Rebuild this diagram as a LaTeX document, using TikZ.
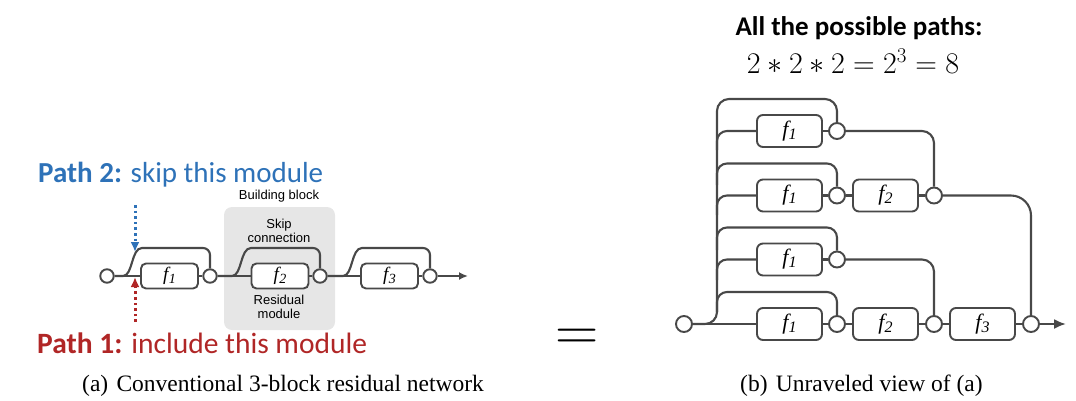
\documentclass[tikz,border=0pt]{standalone}
\usepackage{fix-cm}
\usepackage{amsmath}
\usepackage{fontspec}
\setmainfont{Liberation Serif}
\newfontfamily\calibri{Carlito}
\newfontfamily\arial{Liberation Sans}
\usetikzlibrary{arrows.meta}

\definecolor{pathblue}{RGB}{46,114,184}
\definecolor{pathred}{RGB}{176,38,38}
\definecolor{wiregray}{RGB}{72,72,72}
\definecolor{blockgray}{RGB}{230,230,230}

\tikzset{
	wire/.style={draw=wiregray, line width=2.1pt},
	fbox/.style={draw=wiregray, line width=1.9pt, rounded corners=5pt, fill=white, inner sep=0pt,
		minimum width=57pt, minimum height=25pt, font=\fontsize{19}{19}\selectfont},
	fboxb/.style={fbox, minimum width=65pt, minimum height=32pt, rounded corners=6pt, font=\fontsize{22}{22}\selectfont},
	joint/.style={circle, draw=wiregray, line width=1.9pt, fill=white, inner sep=0pt, minimum size=13.5pt},
	jointb/.style={joint, minimum size=16pt},
	smalltext/.style={font=\arial\fontsize{13}{13.5}\selectfont, align=center, inner sep=0pt},
	pathmark/.style={line width=3pt, dash pattern=on 2.6pt off 3pt, -{Latex[length=10pt,width=9pt]}},
}
% f with an italic index, #1 = size of the index
\newcommand{\fl}[2]{\textit{f\kern0.3pt\raisebox{-3pt}{\fontsize{#1}{#1}\selectfont #2}}}

\begin{document}
\begin{tikzpicture}[x=1pt, y=-1pt]
		\useasboundingbox (0,0) rectangle (1076,400);
		
		% Building block
		\node[fill=blockgray, rounded corners=8pt, minimum width=111pt, minimum height=123pt] (block) at (279.5,268.5) {};
		\node[smalltext, anchor=base] (blocklbl) at (279,199) {Building block};
		\node[smalltext] (skiplbl) at (279,231) {Skip\\connection};
		\node[smalltext] (reslbl) at (279,307) {Residual\\module};
		
		% Residual network
		\node[joint] (in0) at (107,276) {};
		\node[fbox] (fa1) at (169.5,276) {\fl{14}{1}};
		\node[joint] (ja1) at (210,276) {};
		\node[fbox] (fa2) at (280,276) {\fl{14}{2}};
		\node[joint] (ja2) at (320,276) {};
		\node[fbox] (fa3) at (389.5,276) {\fl{14}{3}};
		\node[joint] (ja3) at (430,276) {};
		\coordinate (outa) at (468,276);
		
		\draw[wire] (in0) -- (fa1) -- (ja1) -- (fa2) -- (ja2) -- (fa3) -- (ja3);
		\draw[wire,-{Latex[length=9pt,width=8pt]}] (ja3) -- (outa);
		
		% Skip connections
		\draw[wire] (in0.east) -- (123,276) .. controls (133,276) and (131,248) .. (142,248) [rounded corners=7pt] -- (210,248) -- (ja1.north);
		\draw[wire] (ja1.east) -- (232,276) .. controls (242,276) and (240,248) .. (251,248) [rounded corners=7pt] -- (320,248) -- (ja2.north);
		\draw[wire] (ja2.east) -- (343,276) .. controls (353,276) and (351,248) .. (362,248) [rounded corners=7pt] -- (430,248) -- (ja3.north);
		
		% Paths
		\coordinate (p2start) at (135,205);
		\coordinate (p2end) at (135,252);
		\coordinate (p1start) at (135,322);
		\coordinate (p1end) at (135,277);
		\draw[pathblue, pathmark] (p2start) -- (p2end);
		\draw[pathred, pathmark] (p1start) -- (p1end);
		\node[font=\calibri\fontsize{29}{34}\selectfont, text=pathblue, anchor=base west, inner sep=0pt] (path2) at (38,182) {\textbf{Path 2:} skip this module};
		\node[font=\calibri\fontsize{29.5}{34}\selectfont, text=pathred, anchor=base west, inner sep=0pt] (path1) at (37,353) {\textbf{Path 1:} include this module};
		
		\node[font=\fontsize{23.5}{28}\selectfont, anchor=base west, inner sep=0pt] (capa) at (82,391) {(a)\hspace{0.35em}Conventional 3-block residual network};
		
		\node[inner sep=0pt] (equal) at (577,340) {\fontsize{60}{60}\selectfont$=$};
		
		% Unraveled view
		\node[font=\calibri\bfseries\fontsize{27}{32}\selectfont, anchor=base, inner sep=0pt] (title) at (859,35) {All the possible paths:};
		\node[font=\fontsize{30}{36}\selectfont, anchor=base, inner sep=0pt] (count) at (853,73) {$2*2*2=2^3=8$};
		
		\node[jointb] (bin) at (684,324) {};
		
		\node[fboxb] (b1f1) at (789.5,131) {\fl{16}{1}};
		\node[jointb] (b1j1) at (837,131) {};
		
		\node[fboxb] (b2f1) at (789.5,195.5) {\fl{16}{1}};
		\node[jointb] (b2j1) at (837,195.5) {};
		\node[fboxb] (b2f2) at (885.5,195.5) {\fl{16}{2}};
		\node[jointb] (b2j2) at (934,195.5) {};
		
		\node[fboxb] (b3f1) at (789.5,259.5) {\fl{16}{1}};
		\node[jointb] (b3j1) at (837,259.5) {};
		
		\node[fboxb] (b4f1) at (789.5,324) {\fl{16}{1}};
		\node[jointb] (b4j1) at (837,324) {};
		\node[fboxb] (b4f2) at (885.5,324) {\fl{16}{2}};
		\node[jointb] (b4j2) at (934,324) {};
		\node[fboxb] (b4f3) at (982.5,324) {\fl{16}{3}};
		\node[jointb] (b4j3) at (1031,324) {};
		\coordinate (outb) at (1066,324);
		
		% trunk and branches
		\draw[wire, rounded corners=12pt] (bin.east) -- (717,324) -- (717,99) -- (837,99) -- (b1j1.north);
		\draw[wire, rounded corners=10pt] (717,150) -- (717,131) -- (b1f1.west);
		\draw[wire, rounded corners=10pt] (717,185) -- (717,163.5) -- (837,163.5) -- (b2j1.north);
		\draw[wire, rounded corners=10pt] (717,215) -- (717,195.5) -- (b2f1.west);
		\draw[wire, rounded corners=10pt] (717,250) -- (717,227.5) -- (837,227.5) -- (b3j1.north);
		\draw[wire, rounded corners=10pt] (717,280) -- (717,259.5) -- (b3f1.west);
		\draw[wire, rounded corners=10pt] (717,312) -- (717,292) -- (837,292) -- (b4j1.north);
		
		\draw[wire] (b1f1) -- (b1j1);
		\draw[wire] (b2f1) -- (b2j1) -- (b2f2) -- (b2j2);
		\draw[wire] (b3f1) -- (b3j1);
		\draw[wire] (bin) -- (b4f1) -- (b4j1) -- (b4f2) -- (b4j2) -- (b4f3) -- (b4j3);
		\draw[wire,-{Latex[length=12pt,width=10pt]}] (b4j3) -- (outb);
		
		% merges
		\draw[wire, rounded corners=12pt] (b1j1.east) -- (934,131) -- (b2j2.north);
		\draw[wire, rounded corners=20pt] (b2j2.east) -- (1031,195.5) -- (b4j3.north);
		\draw[wire, rounded corners=12pt] (b3j1.east) -- (934,259.5) -- (b4j2.north);
		
		\node[font=\fontsize{23.5}{28}\selectfont, anchor=base west, inner sep=0pt] (capb) at (740,391) {(b)\hspace{0.35em}Unraveled view of (a)};
		
	\end{tikzpicture}
\end{document}
